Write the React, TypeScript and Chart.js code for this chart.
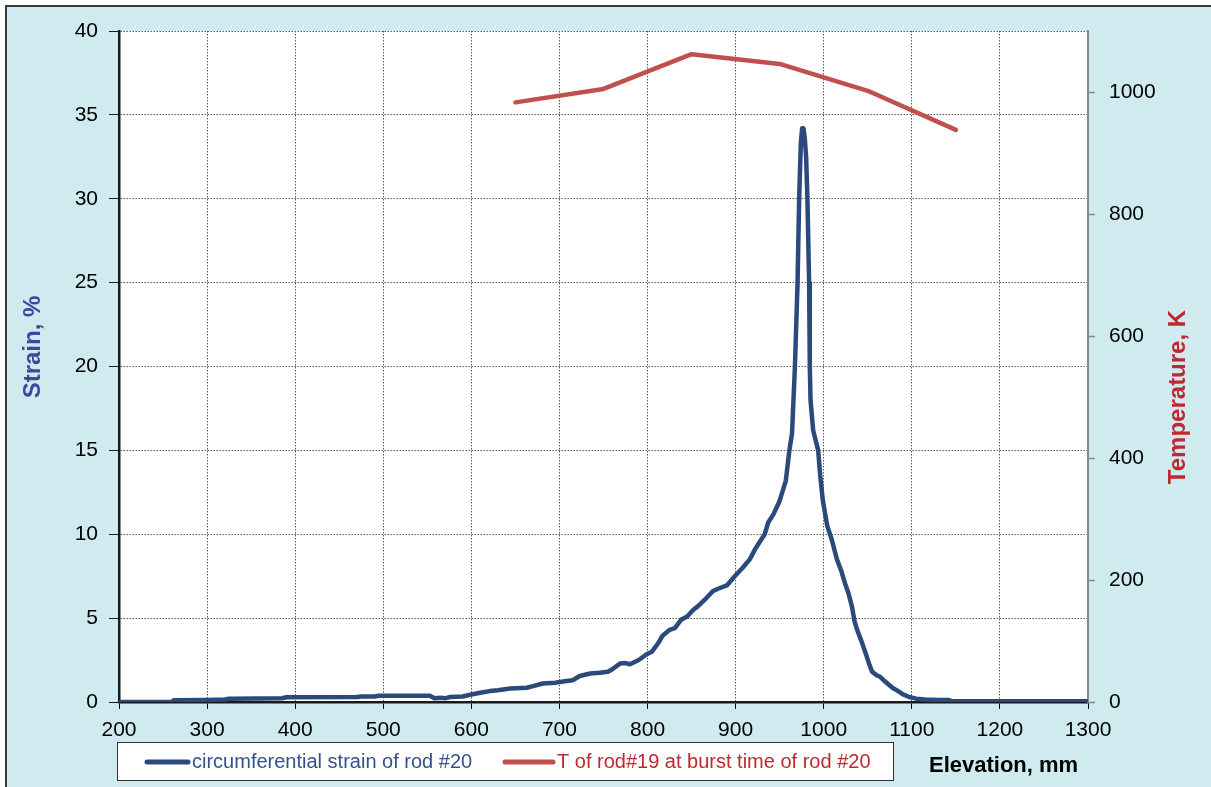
import React, { useEffect, useRef } from "react";
import { Chart, registerables } from "chart.js";

Chart.register(...registerables);

const strainElevation = [
  200, 260, 262, 300, 320, 325, 385, 390, 470, 475, 490, 495, 553, 558, 565, 570, 576, 590, 600, 610,
  621, 630, 644, 663, 670, 681, 695, 708, 715, 723, 735, 746, 755, 760, 769, 775, 780, 790, 799, 805,
  812, 817, 825, 831, 838, 845, 852, 857, 865, 874, 880, 890, 899, 908, 916, 922, 928, 933, 937, 943,
  950, 957, 961, 964, 967.3, 970.3, 972.1, 974, 975.5, 977, 978.5, 980, 981.5, 983.4, 984.2, 985, 988,
  993.7, 996, 999, 1004, 1009, 1015, 1020, 1024, 1028, 1032, 1035, 1038, 1043, 1047, 1052, 1055, 1060,
  1064, 1068, 1073, 1078, 1084, 1090, 1097, 1105, 1115, 1130, 1142, 1145, 1300,
];
const strainValue = [
  0, 0, 0.1, 0.12, 0.15, 0.2, 0.22, 0.28, 0.3, 0.33, 0.33, 0.37, 0.37, 0.22, 0.25, 0.22, 0.3, 0.33, 0.45, 0.55,
  0.65, 0.7, 0.8, 0.85, 0.95, 1.1, 1.15, 1.25, 1.3, 1.55, 1.7, 1.75, 1.8, 1.95, 2.3, 2.32, 2.25, 2.5, 2.85, 3.0,
  3.5, 3.95, 4.3, 4.4, 4.9, 5.1, 5.5, 5.7, 6.1, 6.6, 6.75, 6.95, 7.5, 8.0, 8.5, 9.1, 9.6, 10.0, 10.7, 11.2,
  12.0, 13.2, 15, 16, 20, 25, 30, 33.3, 34.2, 34.2, 33.6, 32.5, 30, 25, 20, 18, 16.2,
  15, 13.5, 12.0, 10.5, 9.7, 8.5, 7.8, 7.1, 6.5, 5.7, 4.8, 4.3, 3.6, 3.0, 2.2, 1.8, 1.6,
  1.5, 1.3, 1.07, 0.85, 0.66, 0.45, 0.3, 0.2, 0.15, 0.12, 0.12, 0.05, 0.05,
];

const tempElevation = [650, 750, 850, 950, 1050, 1150];
const tempValue = [983, 1005, 1062, 1046, 1002, 938];

const xTicks = [200, 300, 400, 500, 600, 700, 800, 900, 1000, 1100, 1200, 1300];
const strainTicks = [0, 5, 10, 15, 20, 25, 30, 35, 40];
const tempTicks = [0, 200, 400, 600, 800, 1000];

const strainLabel = "circumferential strain of rod #20";
const tempLabel = "T of rod#19 at burst time of rod #20";
const xTitle = "Elevation, mm";
const yTitle = "Strain, %";
const y1Title = "Temperature, K";

const FONT = "'Liberation Sans', Arial, sans-serif";
const BLUE = "#2B4A7C";
const RED = "#C0504D";
const TICK_SIZE = 21;

export default function App() {
  const ref = useRef<HTMLCanvasElement | null>(null);

  useEffect(() => {
    document.body.style.margin = "0";
    const canvas = ref.current;
    if (!canvas) return;

    const decor = {
      id: "decor",
      beforeDraw(chart: any) {
        const { ctx, chartArea } = chart;
        ctx.save();
        ctx.fillStyle = "#ffffff";
        ctx.fillRect(0, 0, chart.width, chart.height);
        ctx.fillStyle = "#CFEBEF";
        ctx.fillRect(6, 6, chart.width, chart.height);
        ctx.strokeStyle = "#3a3a3a";
        ctx.lineWidth = 2;
        ctx.strokeRect(6, 6, chart.width + 20, chart.height + 20);
        ctx.fillStyle = "#ffffff";
        ctx.fillRect(chartArea.left, chartArea.top, chartArea.right - chartArea.left, chartArea.bottom - chartArea.top);
        ctx.restore();
      },
      afterDraw(chart: any) {
        const { ctx } = chart;
        ctx.save();
        ctx.font = `bold 24px ${FONT}`;
        ctx.textAlign = "center";
        ctx.textBaseline = "middle";
        // left title
        ctx.save();
        ctx.translate(33, 347);
        ctx.rotate(-Math.PI / 2);
        ctx.fillStyle = "#3A4A9C";
        ctx.fillText(yTitle, 0, 0);
        ctx.restore();
        // right title
        ctx.save();
        ctx.translate(1178, 397);
        ctx.rotate(-Math.PI / 2);
        ctx.fillStyle = "#C0282F";
        ctx.fillText(y1Title, 0, 0);
        ctx.restore();
        // x title
        ctx.font = `bold 22px ${FONT}`;
        ctx.textAlign = "left";
        ctx.fillStyle = "#000";
        ctx.fillText(xTitle, 929, 766);
        // legend
        ctx.fillStyle = "#fff";
        ctx.fillRect(117, 742, 776, 38);
        ctx.strokeStyle = "#333";
        ctx.lineWidth = 1;
        ctx.strokeRect(117.5, 742.5, 776, 38);
        const ds = chart.data.datasets;
        const items = [
          { x1: 147, x2: 188, tx: 192, color: ds[0].borderColor, text: ds[0].label, tc: "#34528A" },
          { x1: 505, x2: 553, tx: 557, color: ds[1].borderColor, text: ds[1].label, tc: "#C0282F" },
        ];
        ctx.font = `20px ${FONT}`;
        for (const it of items) {
          ctx.strokeStyle = it.color;
          ctx.lineWidth = 5;
          ctx.lineCap = "round";
          ctx.beginPath();
          ctx.moveTo(it.x1, 762);
          ctx.lineTo(it.x2, 762);
          ctx.stroke();
          ctx.fillStyle = it.tc;
          ctx.fillText(it.text, it.tx, 762);
        }
        ctx.restore();
      },
    };

    const gridColor = (edge: number[]) => (c: any) =>
      c.tick && edge.includes(c.tick.value) ? "rgba(0,0,0,0)" : "#5a5a5a";
    const plain = (v: any) => String(v);

    const chart = new Chart(canvas, {
      type: "line",
      data: {
        datasets: [
          {
            label: strainLabel,
            data: strainElevation.map((x, i) => ({ x, y: strainValue[i] })),
            borderColor: BLUE,
            borderWidth: 4.5,
            pointRadius: 0,
            tension: 0,
            yAxisID: "y",
            borderJoinStyle: "round",
            borderCapStyle: "round",
          },
          {
            label: tempLabel,
            data: tempElevation.map((x, i) => ({ x, y: tempValue[i] })),
            borderColor: RED,
            borderWidth: 4.5,
            pointRadius: 0,
            tension: 0,
            yAxisID: "y1",
            borderJoinStyle: "round",
            borderCapStyle: "round",
          },
        ],
      },
      options: {
        responsive: false,
        animation: false,
        devicePixelRatio: 1,
        layout: { padding: { top: 31, left: 0, right: 0, bottom: 0 } },
        plugins: { legend: { display: false }, tooltip: { enabled: false } },
        scales: {
          x: {
            type: "linear",
            min: 200,
            max: 1300,
            afterBuildTicks: (s: any) => {
              s.ticks = xTicks.map((v) => ({ value: v }));
            },
            afterFit: (s: any) => {
              s.height = 85;
            },
            ticks: {
              autoSkip: false,
              maxRotation: 0,
              color: "#000",
              padding: 9,
              callback: plain,
              font: { family: FONT, size: TICK_SIZE },
            },
            grid: {
              color: gridColor([200, 1300]),
              lineWidth: 1,
              tickLength: 7,
              tickColor: "#000",
              tickWidth: 1,
              tickBorderDash: [],
            },
            border: { color: "#1a1a1a", width: 2.5, dash: [1.5, 1.5] },
          },
          y: {
            type: "linear",
            position: "left",
            min: 0,
            max: 40,
            afterBuildTicks: (s: any) => {
              s.ticks = strainTicks.map((v) => ({ value: v }));
            },
            afterFit: (s: any) => {
              s.width = 119;
            },
            ticks: {
              color: "#000",
              padding: 11,
              callback: plain,
              font: { family: FONT, size: TICK_SIZE },
            },
            grid: {
              color: gridColor([0]),
              lineWidth: 1,
              tickLength: 10,
              tickColor: "#1a1a1a",
              tickWidth: 1,
              tickBorderDash: [],
            },
            border: { color: "#1a1a1a", width: 2.5, dash: [1.5, 1.5] },
          },
          y1: {
            type: "linear",
            position: "right",
            min: 0,
            max: 1100,
            afterBuildTicks: (s: any) => {
              s.ticks = tempTicks.map((v) => ({ value: v }));
            },
            afterFit: (s: any) => {
              s.width = 123;
            },
            ticks: {
              color: "#000",
              padding: 14,
              callback: plain,
              font: { family: FONT, size: TICK_SIZE },
            },
            grid: {
              drawOnChartArea: false,
              tickLength: 7,
              tickColor: "#888",
              tickWidth: 1.5,
            },
            border: { color: "#888", width: 2 },
          },
        },
      },
      plugins: [decor],
    } as any);

    return () => chart.destroy();
  }, []);

  return <canvas ref={ref} width={1211} height={787} style={{ display: "block" }} />;
}
